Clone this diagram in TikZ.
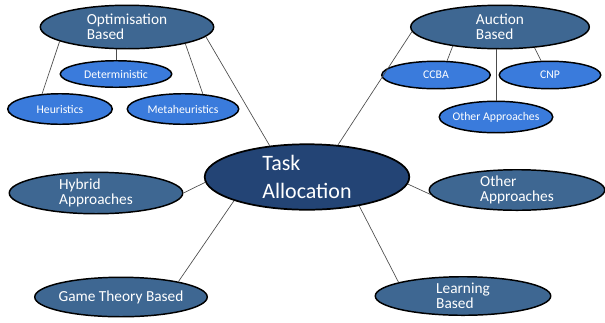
\documentclass[tikz,border=0pt]{standalone}
\usepackage{fontspec}
\setmainfont{Carlito}
\usetikzlibrary{shapes.geometric}
\definecolor{taskblue}{HTML}{234475}
\definecolor{mainblue}{HTML}{3E6792}
\definecolor{subblue}{HTML}{3A7BDC}
\begin{document}
\begin{tikzpicture}[x=0.75pt,y=-0.75pt,
  topic/.style={ellipse,draw=black,line width=1.1pt,fill=mainblue,text=white,
    align=left,inner xsep=-14pt,inner ysep=-6pt,font=\fontsize{11.5}{11}\selectfont},
  subtopic/.style={ellipse,draw=black,line width=1.1pt,fill=subblue,text=white,
    inner xsep=-14pt,inner ysep=-4pt,font=\fontsize{8.8}{10}\selectfont},
  link/.style={draw=black!70,line width=0.5pt}]
  \useasboundingbox (0,0) rectangle (605,322);
  % centre
  \node[ellipse,draw=black,line width=1.3pt,fill=taskblue,text=white,align=left,
    inner xsep=-20pt,inner ysep=-10pt,minimum width=153.4pt,minimum height=49.1pt,
    font=\fontsize{16.5}{21}\selectfont] (task) at (307,177) {Task\\Allocation};
  % main branches
  \node[topic,minimum width=130pt,minimum height=32.6pt] (opt) at (127,27) {Optimisation\\Based};
  \node[topic,minimum width=133.9pt,minimum height=32.6pt] (auct) at (500,27) {Auction\\Based};
  \node[topic,minimum width=130.1pt,minimum height=31.1pt] (hyb) at (96,193) {Hybrid\\Approaches};
  \node[topic,minimum width=129.4pt,minimum height=29.6pt] (game) at (121,297) {Game Theory Based};
  \node[topic,minimum width=131.6pt,minimum height=30.4pt] (oth) at (517,190) {Other\\Approaches};
  \node[topic,minimum width=131.6pt,minimum height=28.9pt] (learn) at (463,296) {Learning\\Based};
  % sub branches
  \node[subtopic,minimum width=83.6pt,minimum height=19.9pt] (det) at (116,74) {Deterministic};
  \node[subtopic,minimum width=78.4pt,minimum height=22.9pt] (heur) at (60,109) {Heuristics};
  \node[subtopic,minimum width=83.6pt,minimum height=22.9pt] (meta) at (183,109) {Metaheuristics};
  \node[subtopic,minimum width=81.4pt,minimum height=20.6pt] (ccba) at (436,75) {CCBA};
  \node[subtopic,minimum width=76.1pt,minimum height=20.6pt] (cnp) at (550,75) {CNP};
  \node[subtopic,minimum width=85.1pt,minimum height=23.6pt] (othauct) at (496,117) {Other Approaches};
  % links
  \draw[link] (opt.-7) -- (task.140);
  \draw[link] (auct.183) -- (task.46);
  \draw[link] (hyb.0) -- (task.183);
  \draw[link] (game.15) -- (task.198);
  \draw[link] (oth.183) -- (task.-4);
  \draw[link] (learn.168) -- (task.-29);
  \draw[link] (det.north) -- (det |- opt.south);
  \draw[link] (opt.192) -- (heur.140);
  \draw[link] (opt.-16) -- (meta.37);
  \draw[link] (auct.202) -- (ccba.52);
  \draw[link] (auct.-31) -- (cnp.122);
  \draw[link] (othauct.north) -- (othauct |- auct.south);
\end{tikzpicture}
\end{document}
